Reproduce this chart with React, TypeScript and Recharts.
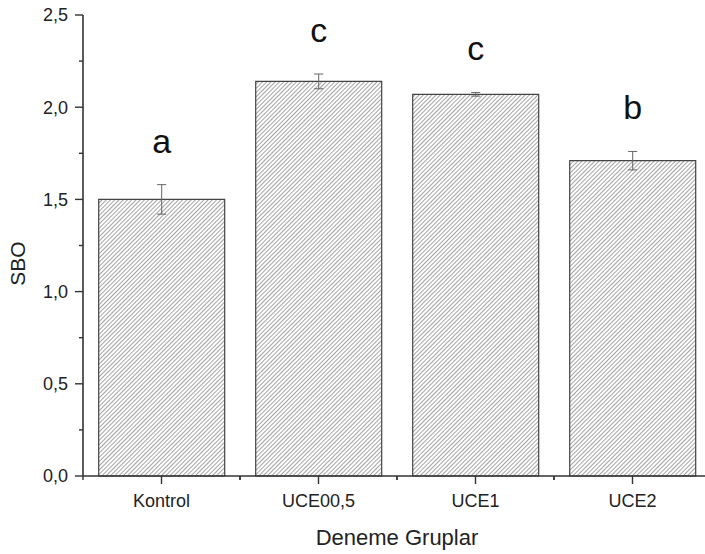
import React from "react";
import { Bar, BarChart, ErrorBar, LabelList, XAxis, YAxis } from "recharts";

const GROUPS = ["Kontrol", "UCE00,5", "UCE1", "UCE2"];
const SBO = [1.5, 2.14, 2.07, 1.71];
const SBO_ERR = [0.08, 0.04, 0.01, 0.05];
const LETTERS = ["a", "c", "c", "b"];
const Y_TICKS = [0, 0.25, 0.5, 0.75, 1, 1.25, 1.5, 1.75, 2, 2.25, 2.5];

const data = GROUPS.map((g, i) => ({ group: g, sbo: SBO[i], err: SBO_ERR[i], letter: LETTERS[i] }));

const FONT = "Arial, 'Liberation Sans', sans-serif";
const CHART_W = 712;
const Y_AXIS_W = 83;
const M_RIGHT = 1;

function YTick(props: any) {
  const { x, y, payload } = props;
  const v: number = payload.value;
  const major = Math.abs(v * 2 - Math.round(v * 2)) < 1e-6;
  return (
    <g>
      <line x1={x} x2={x - (major ? 8 : 4)} y1={y} y2={y} stroke="#333" strokeWidth={1.4} />
      {major && (
        <text x={x - 15} y={y} dy="0.35em" textAnchor="end" fontSize={18} fill="#222" fontFamily={FONT}>
          {v.toFixed(1).replace(".", ",")}
        </text>
      )}
    </g>
  );
}

function XTick(props: any) {
  const { x, y, payload, visibleTicksCount } = props;
  const plotW = CHART_W - Y_AXIS_W - M_RIGHT;
  const band = plotW / (visibleTicksCount || GROUPS.length);
  return (
    <g>
      <line x1={x} x2={x} y1={y} y2={y + 8} stroke="#333" strokeWidth={1.4} />
      <line x1={x - band / 2} x2={x - band / 2} y1={y} y2={y + 4} stroke="#333" strokeWidth={1.4} />
      <line x1={x + band / 2} x2={x + band / 2} y1={y} y2={y + 4} stroke="#333" strokeWidth={1.4} />
      <text x={x} y={y + 30.5} textAnchor="middle" fontSize={18} fill="#222" fontFamily={FONT}>
        {payload.value}
      </text>
    </g>
  );
}

function LetterLabel(props: any) {
  const { x, y, width, height, value, index } = props;
  const errPx = (SBO_ERR[index] * height) / SBO[index];
  return (
    <text x={x + width / 2} y={y - errPx - 32} textAnchor="middle" fontSize={34} fill="#111" fontFamily={FONT}>
      {value}
    </text>
  );
}

function SboLabel(props: any) {
  const { viewBox } = props;
  const cy = viewBox.y + viewBox.height / 2 + 18;
  return (
    <text x={18} y={cy} transform={`rotate(-90 18 ${cy})`} dy="0.35em" textAnchor="middle" fontSize={21} fill="#222" fontFamily={FONT}>
      SBO
    </text>
  );
}

export default function App() {
  return (
    <div style={{ position: "absolute", left: 0, top: 0, width: 705, height: 554, overflow: "hidden", background: "#fff" }}>
      <BarChart
        width={CHART_W}
        height={554}
        data={data}
        margin={{ top: 15, right: M_RIGHT, bottom: 0, left: 0 }}
        barCategoryGap="10%"
      >
        <defs>
          <pattern id="hatch" width={3} height={3} patternUnits="userSpaceOnUse" patternTransform="rotate(45)">
            <rect width={3} height={3} fill="#fff" />
            <line x1={0.5} y1={0} x2={0.5} y2={3} stroke="#9a9a9a" strokeWidth={0.9} />
          </pattern>
        </defs>
        <XAxis
          dataKey="group"
          height={78}
          tickSize={0}
          tickMargin={0}
          tickLine={false}
          interval={0}
          tick={<XTick />}
          axisLine={{ stroke: "#333", strokeWidth: 1.6 }}
          label={{ value: "Deneme Gruplar", position: "insideBottom", offset: 9, fontSize: 22, fill: "#222", fontFamily: FONT }}
        />
        <YAxis
          width={Y_AXIS_W}
          domain={[0, 2.5]}
          ticks={Y_TICKS}
          interval={0}
          tickSize={0}
          tickMargin={0}
          tickLine={false}
          tick={<YTick />}
          axisLine={{ stroke: "#333", strokeWidth: 1.6 }}
          label={<SboLabel />}
        />
        <Bar dataKey="sbo" fill="url(#hatch)" stroke="#444" strokeWidth={1.2} isAnimationActive={false}>
          <ErrorBar dataKey="err" width={4.5} stroke="#666" strokeWidth={1} />
          <LabelList dataKey="letter" content={<LetterLabel />} />
        </Bar>
      </BarChart>
    </div>
  );
}
